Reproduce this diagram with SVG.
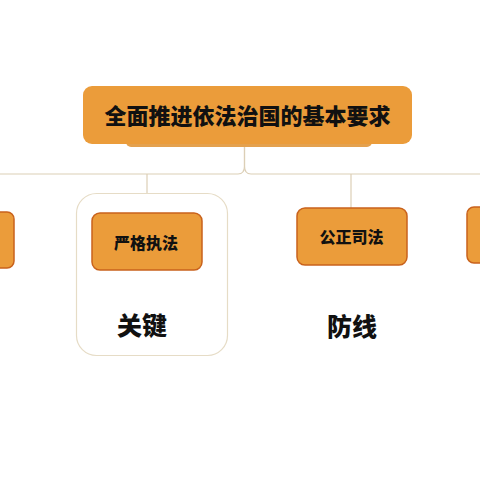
<svg xmlns="http://www.w3.org/2000/svg" width="480" height="480" viewBox="0 0 480 480">
<defs>
<style>
.box{fill:#eb9c3a;stroke:#c9621c;stroke-width:1.5}
.main{fill:#eb9c3a}
.t{font-family:"Noto Sans CJK SC","Noto Sans CJK JP",sans-serif;font-weight:900;fill:#111111;text-anchor:middle;dominant-baseline:central}
.con{fill:none;stroke:#dccfb6;stroke-width:1.2}
</style>
</defs>
<rect width="480" height="480" fill="#ffffff"/>
<g id="connectors">
<path class="con" d="M244.5 145 V166 Q244.5 174 238 174 H0"/>
<path class="con" d="M244.5 145 V166 Q244.5 174 251 174 H480"/>
<path class="con" d="M147 174 V213"/>
<path class="con" d="M351 174 V208"/>
</g>
<g id="container">
<rect x="76.5" y="193.5" width="151" height="162" rx="20" fill="#ffffff" stroke="#e6dcc6" stroke-width="1.2"/>
</g>
<g id="root">
<rect x="126" y="136" width="246" height="11" rx="5" fill="#e4a14e"/>
<rect class="main" x="83" y="86" width="329" height="58" rx="9"/>
<text class="t" x="247.5" y="114" font-size="22">全面推进依法治国的基本要求</text>
</g>
<g id="node-left">
<rect class="box" x="-20" y="212" width="34" height="56" rx="7"/>
</g>
<g id="node-yange">
<rect class="box" x="92" y="213" width="110" height="57" rx="8"/>
<text class="t" x="146" y="242" font-size="16">严格执法</text>
</g>
<g id="node-gongzheng">
<rect class="box" x="297" y="208" width="110" height="57" rx="8"/>
<text class="t" x="351.5" y="236" font-size="16">公正司法</text>
</g>
<g id="node-right">
<rect class="box" x="467" y="207" width="40" height="56" rx="7"/>
</g>
<g id="label-guanjian">
<text class="t" x="142" y="324" font-size="25">关键</text>
</g>
<g id="label-fangxian">
<text class="t" x="352" y="325" font-size="25">防线</text>
</g>
</svg>
